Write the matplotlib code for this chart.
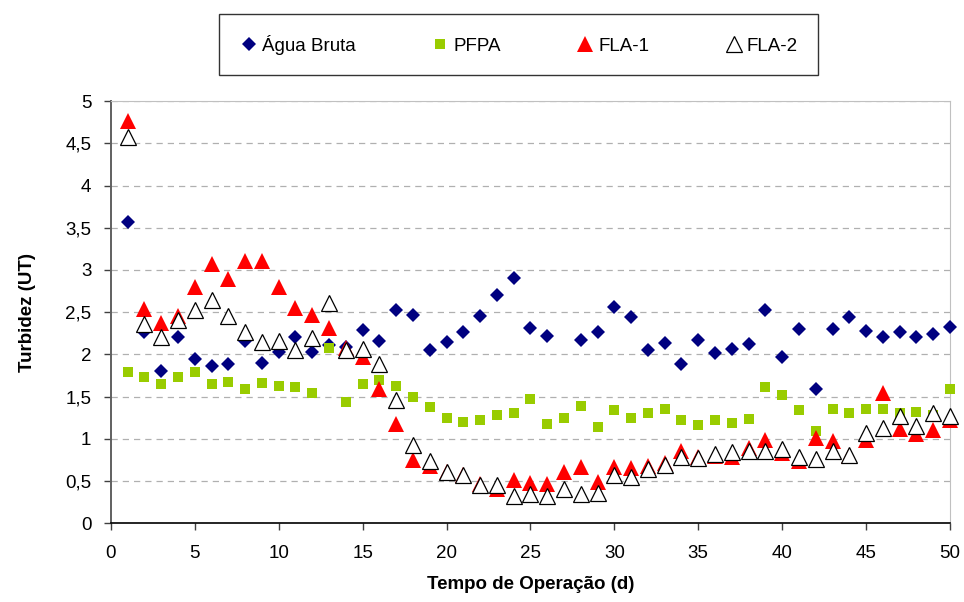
import numpy as np
import matplotlib
matplotlib.use("Agg")
import matplotlib.pyplot as plt
from matplotlib.ticker import MultipleLocator, FuncFormatter

plt.rcParams['font.family'] = ['Liberation Sans', 'DejaVu Sans']

nan = np.nan
days = list(range(1, 51))

agua_bruta = [3.57, 2.26, 1.80, 2.20, 1.94, 1.86, 1.89, 2.16, 1.90, 2.03,
              2.20, 2.03, 2.11, 2.09, 2.29, 2.16, 2.52, 2.47, 2.05, 2.15,
              2.27, 2.46, 2.70, 2.90, 2.31, 2.22, nan, 2.17, 2.26, 2.56,
              2.44, 2.05, 2.14, 1.89, 2.17, 2.01, 2.06, 2.12, 2.53, 1.97,
              2.30, 1.59, 2.30, 2.44, 2.28, 2.21, 2.27, 2.20, 2.24, 2.32]

pfpa = [1.79, 1.73, 1.65, 1.73, 1.79, 1.65, 1.67, 1.59, 1.66, 1.62,
        1.61, 1.54, 2.07, 1.43, 1.65, 1.70, 1.63, 1.50, 1.38, 1.25,
        1.20, 1.22, 1.28, 1.30, 1.47, 1.18, 1.24, 1.39, 1.14, 1.34,
        1.25, 1.30, 1.35, 1.22, 1.16, 1.22, 1.19, 1.23, 1.61, 1.52,
        1.34, 1.09, 1.35, 1.31, 1.35, 1.35, 1.30, 1.32, 1.28, 1.59]

fla1 = [4.76, 2.54, 2.37, 2.45, 2.80, 3.07, 2.89, 3.10, 3.11, 2.80,
        2.55, 2.47, 2.31, 2.07, 1.97, 1.59, 1.17, 0.75, 0.68, 0.60,
        0.57, 0.46, 0.40, 0.51, 0.48, 0.46, 0.61, 0.66, 0.49, 0.66,
        0.65, 0.68, 0.71, 0.86, 0.78, 0.80, 0.78, 0.89, 0.99, 0.83,
        0.74, 1.01, 0.97, 0.80, 0.98, 1.54, 1.12, 1.06, 1.10, 1.22]

fla2 = [4.57, 2.36, 2.21, 2.41, 2.52, 2.64, 2.45, 2.26, 2.15, 2.16,
        2.05, 2.19, 2.61, 2.05, 2.06, 1.88, 1.46, 0.93, 0.74, 0.60,
        0.57, 0.45, 0.45, 0.32, 0.35, 0.32, 0.41, 0.35, 0.36, 0.57,
        0.55, 0.64, 0.69, 0.78, 0.77, 0.82, 0.84, 0.85, 0.86, 0.88,
        0.78, 0.76, 0.85, 0.81, 1.07, 1.13, 1.27, 1.15, 1.30, 1.27]

fig = plt.figure(figsize=(9.64, 6.02), dpi=100)
ax = fig.add_axes([0.115, 0.131, 0.8705, 0.701])

ax.plot(days, agua_bruta, linestyle='none', marker='D', markersize=7.6,
        color='#000080', markeredgewidth=0, label='Água Bruta', zorder=3, clip_on=False)
ax.plot(days, pfpa, linestyle='none', marker='s', markersize=7.4,
        color='#99CC00', markeredgewidth=0, label='PFPA', zorder=3, clip_on=False)
ax.plot(days, fla1, linestyle='none', marker='^', markersize=11,
        color='#FF0000', markeredgewidth=0, label='FLA-1', zorder=3, clip_on=False)
ax.plot(days, fla2, linestyle='none', marker='^', markersize=11,
        markerfacecolor='white', markeredgecolor='black', markeredgewidth=0.9,
        label='FLA-2', zorder=3, clip_on=False)

ax.set_xlim(0, 50)
ax.set_ylim(0, 5)
ax.xaxis.set_major_locator(MultipleLocator(5))
ax.yaxis.set_major_locator(MultipleLocator(0.5))
ax.yaxis.set_major_formatter(FuncFormatter(lambda v, p: f"{v:g}".replace('.', ',')))

ax.grid(axis='y', color='#b0b0b0', linestyle=(0, (5, 4)), linewidth=0.9, zorder=0)
ax.set_axisbelow(True)

ax.spines['left'].set_color('#606060')
ax.spines['left'].set_linewidth(1.4)
ax.spines['bottom'].set_color('black')
ax.spines['bottom'].set_linewidth(1.2)
ax.spines['top'].set_color('#c0c0c0')
ax.spines['right'].set_color('#c0c0c0')

ax.tick_params(axis='both', labelsize=13.5, length=5, width=1, color='#404040')
ax.tick_params(axis='y', pad=9)
ax.tick_params(axis='x', pad=11)

ax.set_xlabel('Tempo de Operação (d)', fontsize=13.5, fontweight='bold', labelpad=10)
ax.set_ylabel('Turbidez (UT)', fontsize=13.5, fontweight='bold', labelpad=21)

leg = fig.legend(loc='center', bbox_to_anchor=(0.538, 0.926), ncol=4,
                 fontsize=13.5, frameon=True, fancybox=False, handlelength=1.0,
                 handletextpad=0.2, columnspacing=4.0, borderpad=1.1)
leg.get_frame().set_edgecolor('black')
leg.get_frame().set_linewidth(1.0)

fig.savefig('out.png', dpi=100)
